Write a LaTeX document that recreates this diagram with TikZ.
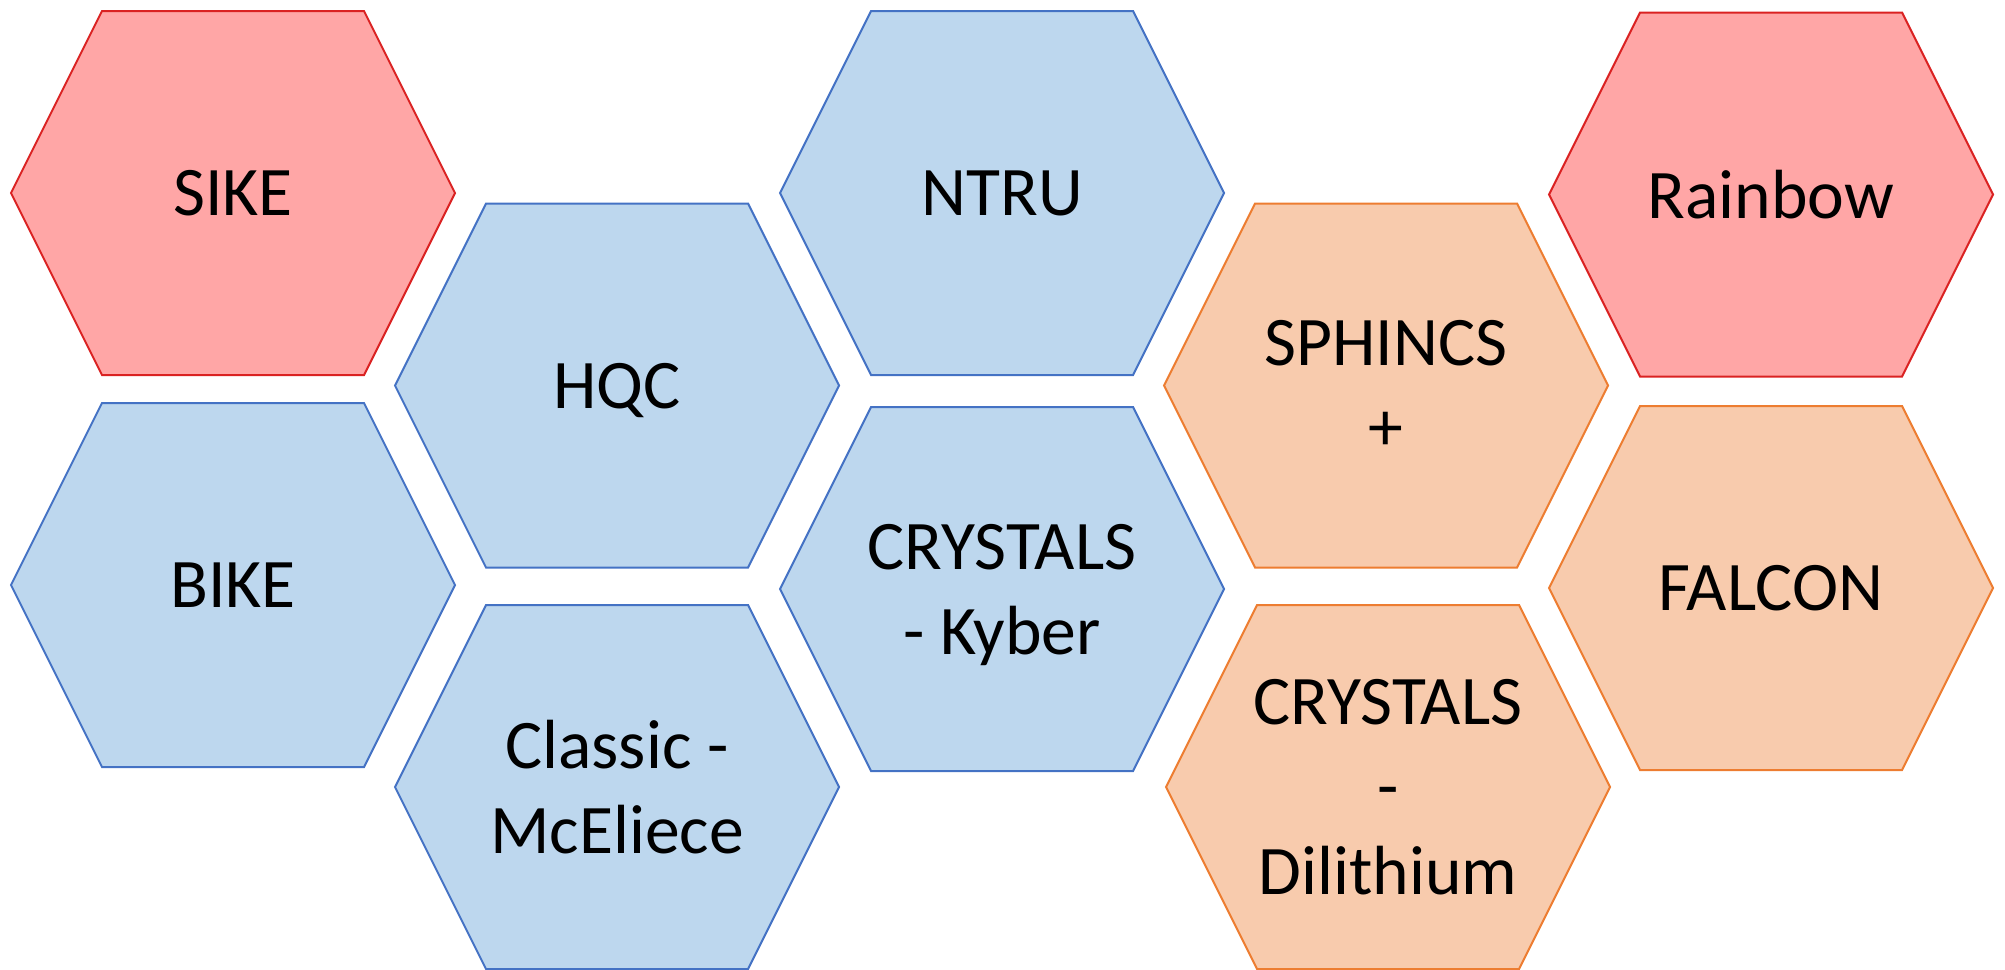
\documentclass[tikz,border=0pt]{standalone}
\usepackage{fontspec}
\setmainfont{Carlito}
\definecolor{kemfill}{HTML}{BDD7EE}
\definecolor{kemline}{HTML}{4472C4}
\definecolor{sigfill}{HTML}{F8CBAD}
\definecolor{sigline}{HTML}{ED7D31}
\definecolor{brokenfill}{HTML}{FFA6A6}
\definecolor{brokenline}{HTML}{DA2222}

\begin{document}
\begin{tikzpicture}[x=0.5pt,y=-0.5pt,
    cell/.style={line width=1pt,line join=miter},
    kemcell/.style={cell,draw=kemline,fill=kemfill},
    sigcell/.style={cell,draw=sigline,fill=sigfill},
    brokencell/.style={cell,draw=brokenline,fill=brokenfill},
    celltext/.style={align=center,inner sep=0pt,text depth=0pt,
        font=\fontsize{34.8}{42.5}\selectfont}]
    \useasboundingbox (0,0) rectangle (2005,969);
    % one hexagon per scheme: centre, colour, name, label
    \foreach \cx/\cy/\kind/\name/\txt in {
        233/193/brokencell/sike/SIKE,
        233/585/kemcell/bike/BIKE,
        617/385.5/kemcell/hqc/HQC,
        617/787/kemcell/mceliece/{Classic -\\McEliece},
        1002/193/kemcell/ntru/NTRU,
        1002/589/kemcell/kyber/{CRYSTALS\\- Kyber},
        1386/385.5/sigcell/sphincs/{SPHINCS\\+},
        1388/787/sigcell/dilithium/{CRYSTALS\\-\\Dilithium},
        1771/194.5/brokencell/rainbow/Rainbow,
        1771/588/sigcell/falcon/FALCON}
    {
        \begin{scope}[shift={(\cx,\cy)}]
            \draw[\kind] (-222,0) -- (-131,-182) -- (131,-182) -- (222,0) -- (131,182) -- (-131,182) -- cycle;
            \node[celltext] (\name) at (0,0) {\txt};
        \end{scope}
    }
\end{tikzpicture}
\end{document}
